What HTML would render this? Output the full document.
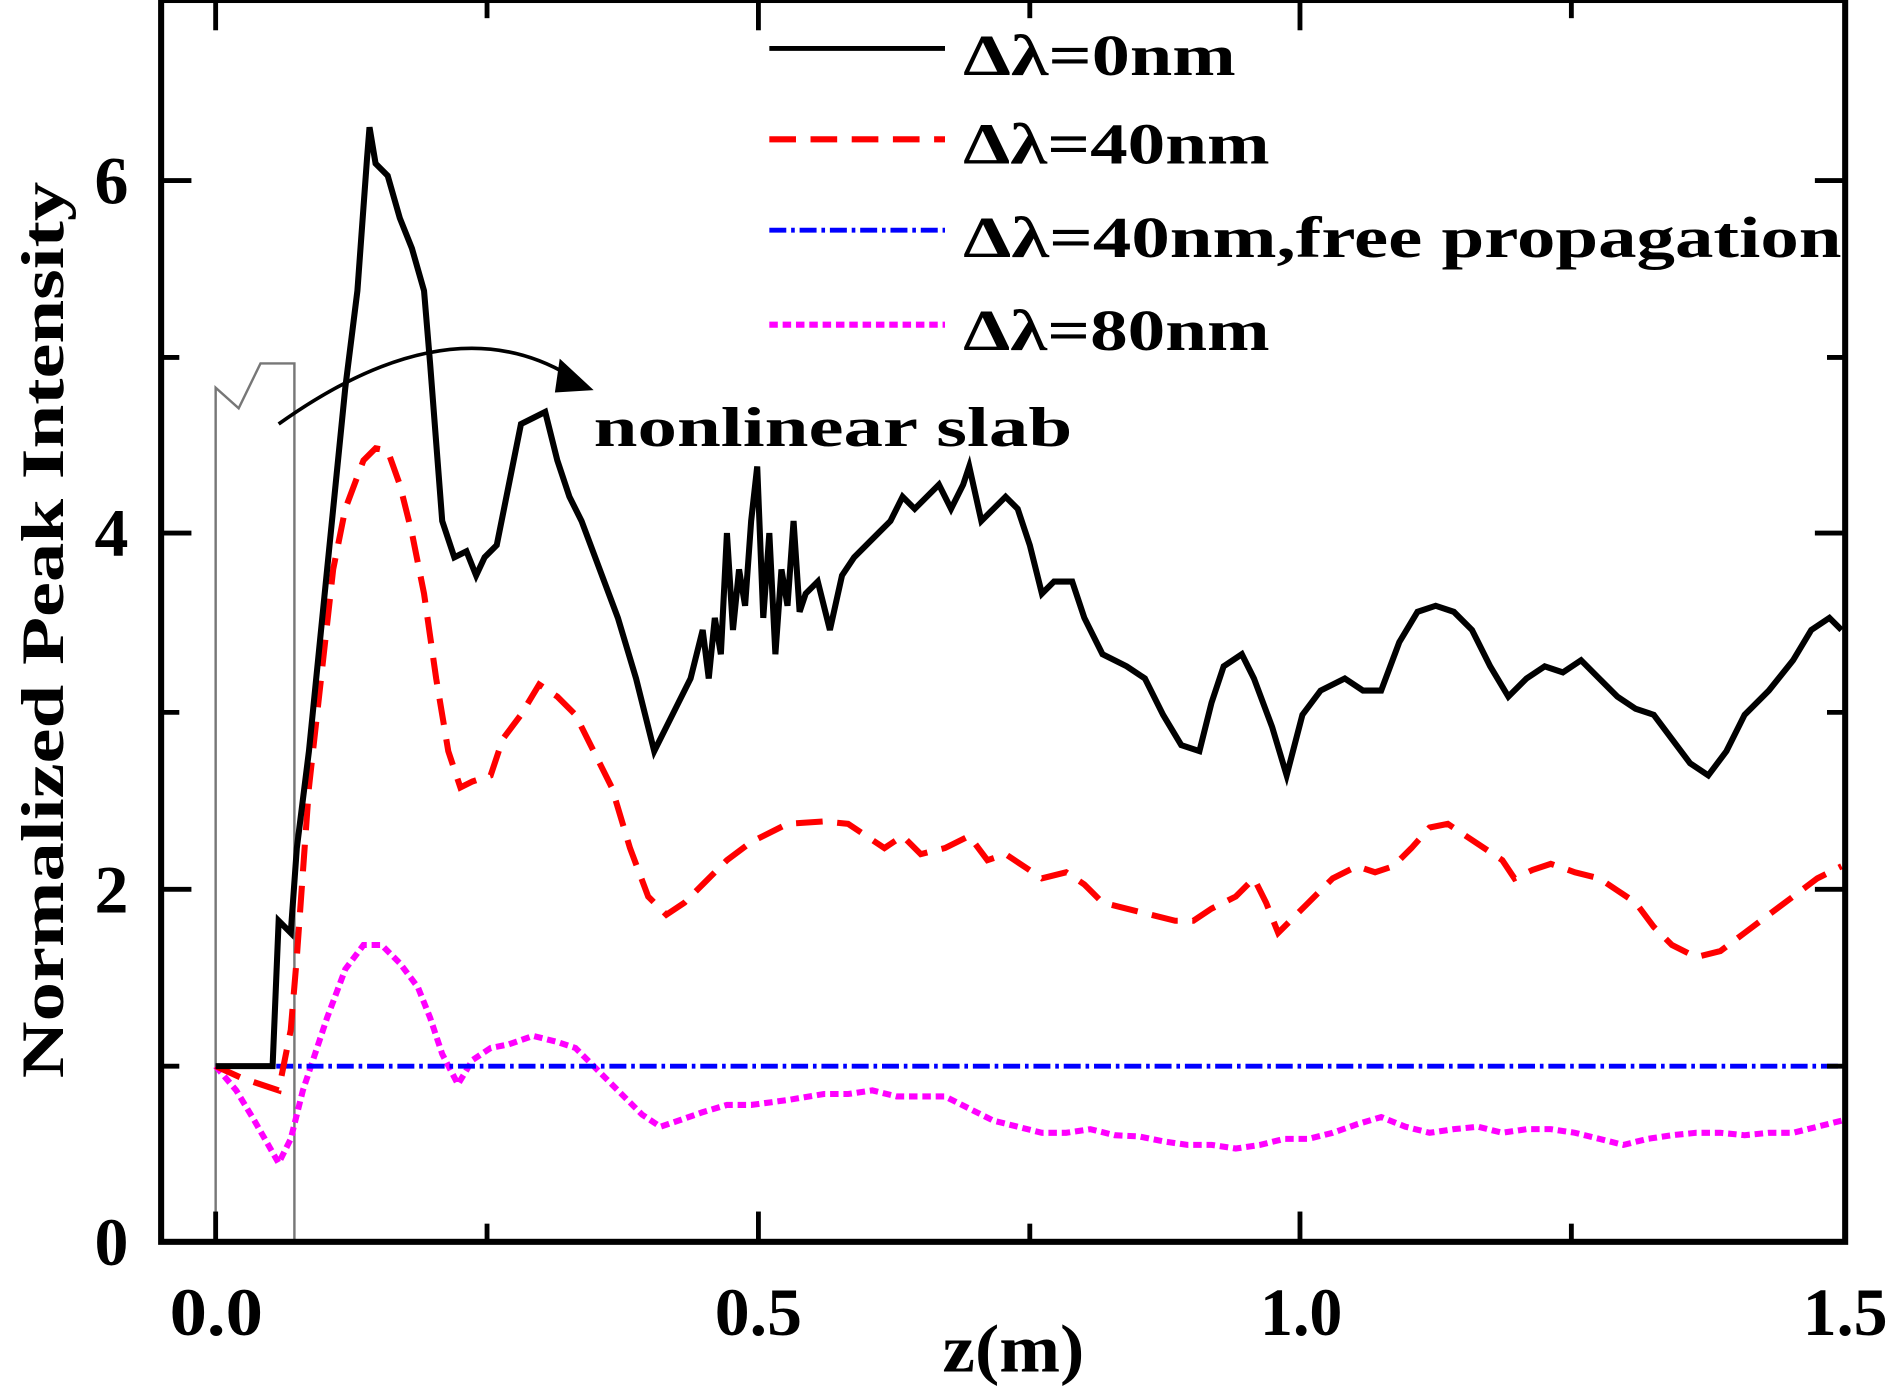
<!DOCTYPE html>
<html><head><meta charset="utf-8"><style>html,body{margin:0;padding:0;background:#fff}svg{display:block;font-family:"Liberation Serif",serif;font-weight:bold}</style></head>
<body>
<svg width="1890" height="1386" viewBox="0 0 1560 1144" xmlns="http://www.w3.org/2000/svg">
<rect width="1560" height="1144" fill="#fff"/>
<polyline points="178,1025 178,320 197,337 215,300 243,300 243,1025" fill="none" stroke="#777" stroke-width="2"/>
<polyline fill="none" stroke="#f0f" stroke-width="5" stroke-dasharray="7,4" points="178,880 195,900 210,925 230,960 240,940 250,900 260,870 270,840 285,800 300,780 315,780 330,795 345,815 355,840 365,870 378,895 390,875 405,865 420,862 440,855 460,860 475,865 490,880 510,900 530,920 545,930 560,925 580,918 600,912 620,912 650,908 680,903 700,903 720,900 740,905 760,905 780,905 800,915 820,925 840,930 860,935 880,935 900,932 920,937 940,938 960,942 980,945 1000,945 1020,948 1040,945 1060,940 1080,940 1100,935 1120,928 1140,922 1160,930 1180,935 1200,932 1220,930 1240,935 1260,932 1280,932 1300,935 1320,940 1340,945 1360,940 1380,937 1400,935 1420,935 1440,937 1460,935 1480,935 1500,930 1520,925"/>
<polyline fill="none" stroke="#00f" stroke-width="4" stroke-dasharray="14,4,3,4" points="178,880 1520,880"/>
<polyline fill="none" stroke="#f00" stroke-width="5" stroke-dasharray="22,12" points="178,880 200,890 230,900 240,850 245,790 255,650 265,560 275,470 285,420 300,380 310,370 320,372 330,400 340,440 350,490 360,560 370,620 380,650 390,645 405,640 415,610 430,590 445,565 460,575 475,590 490,620 505,650 520,700 535,740 550,755 565,745 580,730 600,710 620,695 650,680 680,678 700,680 715,690 730,700 745,690 760,705 780,700 800,690 815,710 830,705 845,715 860,725 880,720 895,730 910,745 930,750 950,755 970,760 985,760 1000,750 1020,740 1035,725 1045,745 1055,770 1065,760 1080,745 1100,725 1120,715 1135,720 1150,715 1165,700 1180,683 1195,680 1210,690 1225,700 1240,710 1250,725 1265,718 1280,713 1300,720 1320,725 1335,735 1350,745 1365,765 1380,780 1400,790 1420,785 1440,770 1460,755 1480,740 1500,725 1520,715"/>
<polyline fill="none" stroke="#000" stroke-width="5" points="178,880 225,880 230,760 240,770 245,700 255,620 265,520 275,420 285,320 295,240 303,130 305,105 310,135 320,145 330,180 340,205 350,240 355,300 365,430 375,460 385,455 393,475 400,460 410,450 420,400 430,350 440,345 450,340 460,380 470,410 480,430 495,470 510,510 525,560 540,620 550,600 560,580 570,560 580,520 585,560 590,510 595,540 600,440 605,520 610,470 615,500 620,430 625,385 630,510 635,440 640,540 645,470 650,500 655,430 660,505 665,490 675,480 685,520 695,475 705,460 715,450 725,440 735,430 745,410 755,420 765,410 775,400 785,420 795,400 800,385 810,430 820,420 830,410 840,420 850,450 860,490 870,480 885,480 895,510 910,540 930,550 945,560 960,590 975,615 990,620 1000,580 1010,550 1025,540 1035,560 1050,600 1062,640 1075,590 1090,570 1110,560 1125,570 1140,570 1155,530 1170,505 1185,500 1200,505 1215,520 1230,550 1245,575 1260,560 1275,550 1290,555 1305,545 1320,560 1335,575 1350,585 1365,590 1380,610 1395,630 1410,640 1425,620 1440,590 1460,570 1480,545 1495,520 1510,510 1520,520"/>
<path d="M230,350 Q370,250 470,310" fill="none" stroke="#000" stroke-width="3"/>
<polygon points="462,296 490,322 458,324" fill="#000"/>
<text x="490" y="368" font-size="46" textLength="395" lengthAdjust="spacingAndGlyphs">nonlinear slab</text>
<rect x="133" y="0" width="1390" height="1025" fill="none" stroke="#000" stroke-width="5"/>
<g stroke="#000" stroke-width="4">
<line x1="133" y1="149" x2="158" y2="149"/><line x1="133" y1="440" x2="158" y2="440"/><line x1="133" y1="734" x2="158" y2="734"/>
<line x1="133" y1="295" x2="148" y2="295"/><line x1="133" y1="588" x2="148" y2="588"/><line x1="133" y1="880" x2="148" y2="880"/>
<line x1="1523" y1="149" x2="1498" y2="149"/><line x1="1523" y1="440" x2="1498" y2="440"/><line x1="1523" y1="734" x2="1498" y2="734"/>
<line x1="1523" y1="295" x2="1508" y2="295"/><line x1="1523" y1="588" x2="1508" y2="588"/><line x1="1523" y1="880" x2="1508" y2="880"/>
<line x1="178" y1="1025" x2="178" y2="1000"/><line x1="626" y1="1025" x2="626" y2="1000"/><line x1="1073" y1="1025" x2="1073" y2="1000"/>
<line x1="402" y1="1025" x2="402" y2="1010"/><line x1="850" y1="1025" x2="850" y2="1010"/><line x1="1297" y1="1025" x2="1297" y2="1010"/>
<line x1="178" y1="0" x2="178" y2="25"/><line x1="626" y1="0" x2="626" y2="25"/><line x1="1073" y1="0" x2="1073" y2="25"/>
<line x1="402" y1="0" x2="402" y2="15"/><line x1="850" y1="0" x2="850" y2="15"/><line x1="1297" y1="0" x2="1297" y2="15"/>
</g>
<g font-size="56" text-anchor="end">
<text x="106" y="168">6</text><text x="106" y="459">4</text><text x="106" y="753">2</text><text x="106" y="1044">0</text>
</g>
<g font-size="56">
<text x="140" y="1102" textLength="77" lengthAdjust="spacingAndGlyphs">0.0</text>
<text x="590" y="1102" textLength="72" lengthAdjust="spacingAndGlyphs">0.5</text>
<text x="1040" y="1102" textLength="68" lengthAdjust="spacingAndGlyphs">1.0</text>
<text x="1488" y="1102" textLength="70" lengthAdjust="spacingAndGlyphs">1.5</text>
<text x="778" y="1132" textLength="117" lengthAdjust="spacingAndGlyphs">z(m)</text>
</g>
<text transform="translate(52,890) rotate(-90)" x="0" y="0" font-size="50" textLength="740" lengthAdjust="spacingAndGlyphs">Normalized Peak Intensity</text>
<line x1="635" y1="40" x2="780" y2="40" stroke="#000" stroke-width="4"/>
<line x1="635" y1="115" x2="780" y2="115" stroke="#f00" stroke-width="5" stroke-dasharray="22,12"/>
<line x1="635" y1="190" x2="780" y2="190" stroke="#00f" stroke-width="4" stroke-dasharray="14,4,3,4"/>
<line x1="635" y1="268" x2="780" y2="268" stroke="#f0f" stroke-width="5" stroke-dasharray="7,4"/>
<g font-size="48">
<text x="795" y="62" textLength="225" lengthAdjust="spacingAndGlyphs">Δλ=0nm</text>
<text x="795" y="135" textLength="253" lengthAdjust="spacingAndGlyphs">Δλ=40nm</text>
<text x="795" y="212" textLength="725" lengthAdjust="spacingAndGlyphs">Δλ=40nm,free propagation</text>
<text x="795" y="289" textLength="253" lengthAdjust="spacingAndGlyphs">Δλ=80nm</text>
</g>
</svg>
</body></html>
